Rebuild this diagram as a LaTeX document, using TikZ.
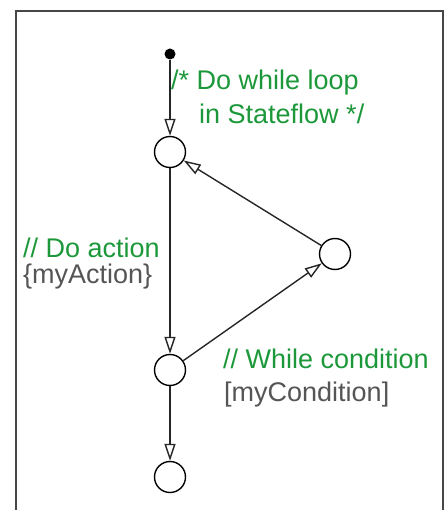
\documentclass[tikz,border=0pt]{standalone}
\usepackage{fontspec}
\setmainfont{Liberation Sans}
\usetikzlibrary{arrows.meta}
\definecolor{cmtgreen}{RGB}{28,152,58}
\definecolor{codegray}{RGB}{85,85,85}
\definecolor{framegray}{RGB}{70,70,70}
\tikzset{
  junction/.style={circle, draw=black, line width=1.4pt, minimum size=31pt, inner sep=0pt, fill=white},
  startdot/.style={circle, fill=black, minimum size=11pt, inner sep=0pt},
  trans/.style={draw=black!85, line width=1.4pt, -{Triangle[open, length=17pt, width=11pt, fill=white]}},
  cmt/.style={text=cmtgreen, anchor=base west, inner sep=0pt, font=\fontsize{27}{32}\selectfont},
  code/.style={text=codegray, anchor=base west, inner sep=0pt, font=\fontsize{27}{32}\selectfont},
}
\begin{document}
\begin{tikzpicture}[x=1pt,y=-1pt]
\useasboundingbox (0,0) rectangle (444,510);
\draw[framegray, line width=1.2pt] (16,512) -- (16,11) -- (443,11) -- (443,512);
\node[startdot] (s) at (170,54) {};
\node[junction] (j1) at (170,152) {};
\node[junction] (j2) at (335,254) {};
\node[junction] (j3) at (170,370) {};
\node[junction] (j4) at (170,477) {};
\draw[trans] (s) -- (j1);
\draw[trans] (j1) -- (j3);
\draw[trans] (j3) -- (j2);
\draw[trans] (j2) -- (j1);
\draw[trans] (j3) -- (j4);
\node[cmt] (c1) at (171,90) {/* Do while loop};
\node[cmt] (c2) at (199,124) {in Stateflow */};
\node[cmt] (c3) at (23,257) {// Do action};
\node[code] (a1) at (23,283) {\{myAction\}};
\node[cmt] (c4) at (223,368) {// While condition};
\node[code] (a2) at (224,401) {[myCondition]};
\end{tikzpicture}
\end{document}
